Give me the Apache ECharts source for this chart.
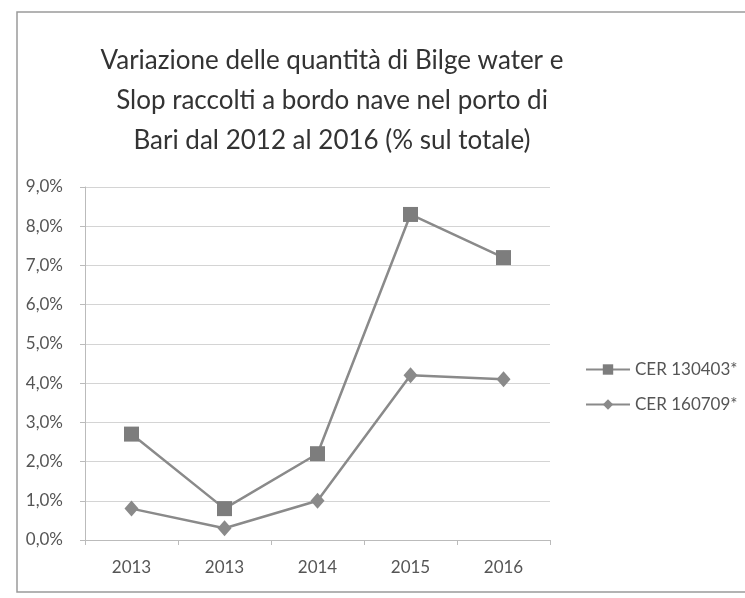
<!DOCTYPE html>
<html>
<head>
<meta charset="utf-8">
<script src="https://cdn.jsdelivr.net/npm/echarts@6/dist/echarts.min.js"></script>
<style>
  html, body { margin: 0; padding: 0; background: #fff; }
  #chart { width: 745px; height: 598px; }
</style>
</head>
<body>
<div id="chart"></div>
<script>
// Anni di raccolta (asse delle categorie)
const years = ['2013', '2013', '2014', '2015', '2016'];
// Quote percentuali sul totale per codice CER
const cer130403 = [2.7, 0.8, 2.2, 8.3, 7.2];
const cer160709 = [0.8, 0.3, 1.0, 4.2, 4.1];
const seriesNames = ['CER 130403*', 'CER 160709*'];
const titleText = 'Variazione delle quantità di Bilge water e\nSlop raccolti a bordo nave nel porto di\nBari dal 2012 al 2016 (% sul totale)';

const chart = echarts.init(document.getElementById('chart'), null, { renderer: 'canvas' });
const font = 'Lato, "Open Sans", sans-serif';
const fmt = v => v.toFixed(1).replace('.', ',') + '%';

chart.setOption({
  backgroundColor: '#fff',
  animation: false,
  title: {
    text: titleText,
    left: 327,
    top: 36,
    textAlign: 'center',
    textStyle: { fontFamily: font, fontSize: 26, fontWeight: 'normal', color: '#333', lineHeight: 40 }
  },
  graphic: [{
    type: 'rect',
    shape: { x: 17, y: 12, width: 760, height: 580 },
    style: { fill: 'none', stroke: '#9a9a9a', lineWidth: 1.5 },
    silent: true
  }],
  legend: {
    orient: 'vertical',
    left: 580,
    top: 356,
    itemGap: 18,
    itemWidth: 44,
    itemHeight: 13,
    textStyle: { fontFamily: font, fontSize: 17, color: '#555' },
    data: seriesNames
  },
  grid: { left: 85, right: 195, top: 187, bottom: 58 },
  xAxis: {
    type: 'category',
    data: years,
    boundaryGap: true,
    axisLine: { lineStyle: { color: '#bbb' } },
    axisTick: { show: true, length: 5, lineStyle: { color: '#bbb' } },
    axisLabel: { fontFamily: font, fontSize: 17, color: '#555', margin: 19 }
  },
  yAxis: {
    type: 'value',
    min: 0,
    max: 9,
    interval: 1,
    axisLine: { show: true, lineStyle: { color: '#bbb' } },
    axisTick: { show: true, length: 5, lineStyle: { color: '#bbb' } },
    splitLine: { lineStyle: { color: '#d4d4d4' } },
    axisLabel: { fontFamily: font, fontSize: 17, color: '#555', margin: 22, formatter: fmt }
  },
  series: [
    {
      name: seriesNames[0],
      type: 'line',
      data: cer130403,
      symbol: 'rect',
      symbolSize: 15,
      lineStyle: { color: '#8a8a8a', width: 2.5 },
      itemStyle: { color: '#7d7d7d' }
    },
    {
      name: seriesNames[1],
      type: 'line',
      data: cer160709,
      symbol: 'diamond',
      symbolSize: [14, 16],
      lineStyle: { color: '#8a8a8a', width: 2.5 },
      itemStyle: { color: '#8a8a8a' }
    }
  ]
});
</script>
</body>
</html>
